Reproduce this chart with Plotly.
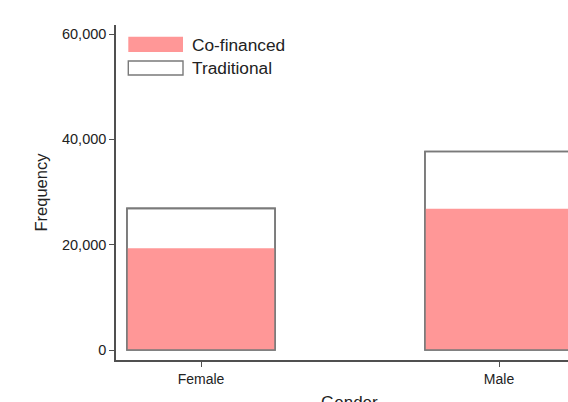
import plotly.graph_objects as go

categories = ["Female", "Male"]
cofinanced = [19300, 26800]
traditional = [26900, 37700]
y_ticks = [0, 20000, 40000, 60000]

W, H = 568, 402
L, R, T, B = 116, 0, 25, 42
PW, PH = W - L - R, H - T - B

def px_x(p):
    return (p - L) / PW

def px_y(p):
    return (H - B - p) / PH

FONT = "Liberation Sans, Arial, sans-serif"
PINK = "#FF9797"
GRAY = "#7a7a7a"
AX = "#505050"

fig = go.Figure()
fig.add_trace(go.Bar(
    x=[0, 1], y=traditional, name="Traditional", width=0.497,
    marker=dict(color="white", line=dict(color=GRAY, width=1.6)),
    showlegend=False,
))
fig.add_trace(go.Bar(
    x=[0, 1], y=cofinanced, name="Co-financed", width=0.497,
    marker=dict(color=PINK, line=dict(color=PINK, width=0)),
    showlegend=False,
))
# redraw outline of traditional bars above pink fill
fig.add_trace(go.Bar(
    x=[0, 1], y=traditional, width=0.497, hoverinfo="skip",
    marker=dict(color="rgba(0,0,0,0)", line=dict(color=GRAY, width=1.6)),
    showlegend=False,
))

x0 = -(201 - L) / 298
x1 = x0 + PW / 298
ymin = -(360 - 350) / 105.33 * 20000
ymax = (350 - 25) / 105.33 * 20000

fig.update_layout(
    width=W, height=H,
    margin=dict(l=L, r=R, t=T, b=B, pad=0),
    paper_bgcolor="white", plot_bgcolor="white",
    barmode="overlay",
    font=dict(family=FONT, size=14, color="#222"),
    xaxis=dict(
        range=[x0, x1], tickvals=[0, 1], ticktext=categories,
        showgrid=False, zeroline=False,
        showline=True, linecolor=AX, linewidth=1.5,
        ticks="outside", ticklen=5, tickcolor=AX, tickwidth=1.2,
        tickfont=dict(size=14, family=FONT, color="#222"),
    ),
    yaxis=dict(
        range=[ymin, ymax], tickvals=y_ticks, tickformat=",",
        showgrid=False, zeroline=False,
        showline=True, linecolor=AX, linewidth=1.5,
        ticks="outside", ticklen=5, tickcolor=AX, tickwidth=1.2,
        tickfont=dict(size=14.5, family=FONT, color="#222"),
    ),
    shapes=[
        dict(type="rect", xref="paper", yref="paper",
             x0=px_x(128.3), x1=px_x(183), y0=px_y(52), y1=px_y(36.7),
             fillcolor=PINK, line=dict(width=0)),
        dict(type="rect", xref="paper", yref="paper",
             x0=px_x(128.3), x1=px_x(183), y0=px_y(75), y1=px_y(61),
             fillcolor="white", line=dict(color=GRAY, width=1.4)),
    ],
    annotations=[
        dict(text="Co-financed", xref="paper", yref="paper",
             x=px_x(190), y=px_y(44.5), xanchor="left", yanchor="middle",
             showarrow=False, font=dict(size=17.3, family=FONT, color="#222")),
        dict(text="Traditional", xref="paper", yref="paper",
             x=px_x(190), y=px_y(68), xanchor="left", yanchor="middle",
             showarrow=False, font=dict(size=17.3, family=FONT, color="#222")),
        dict(text="Frequency", xref="paper", yref="paper",
             x=px_x(40), y=0.5, xanchor="center", yanchor="middle",
             textangle=-90, showarrow=False,
             font=dict(size=16.5, family=FONT, color="#222")),
        dict(text="Gender", xref="paper", yref="paper",
             x=px_x(349), y=px_y(403), xanchor="center", yanchor="middle",
             showarrow=False, font=dict(size=17, family=FONT, color="#222")),
    ],
)

fig.write_html(
    "out.html",
    config={"displayModeBar": False},
    post_script="document.body.style.margin='0';document.body.style.overflow='hidden';",
)
